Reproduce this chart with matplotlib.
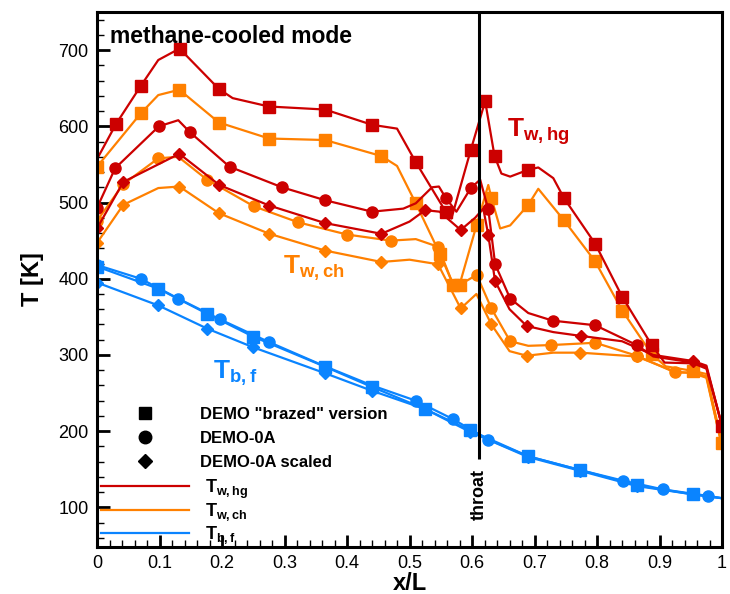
import numpy as np
import matplotlib
matplotlib.use('Agg')
import matplotlib.pyplot as plt
from matplotlib.lines import Line2D
from matplotlib.ticker import MultipleLocator, FuncFormatter

plt.rcParams['font.family'] = ['Liberation Sans', 'DejaVu Sans']
plt.rcParams['mathtext.fontset'] = 'custom'
plt.rcParams['mathtext.rm'] = 'Liberation Sans:bold'
plt.rcParams['mathtext.bf'] = 'Liberation Sans:bold'
plt.rcParams['mathtext.it'] = 'Liberation Sans:bold'

red = '#cc0000'
orange = '#ff8000'
blue = '#0a84ff'

# --- data (x/L, T [K]) ---
# DEMO "brazed" version
sq_hg_x = [0, 0.0304, 0.070, 0.098, 0.132, 0.195, 0.217, 0.275, 0.365, 0.44, 0.48, 0.51, 0.558, 0.567,
           0.598, 0.621, 0.636, 0.647, 0.661, 0.69, 0.706, 0.73, 0.747, 0.797, 0.8405, 0.8875, 0.908,
           0.954, 0.975, 1.0]
sq_hg_T = [557, 603, 653, 687, 702, 649, 637, 626, 622, 602, 597, 553, 488, 479,
           569, 633, 561, 538, 534, 543, 546, 532, 506, 446, 376, 313, 290,
           289, 282, 207]
sq_hg_m = [1, 2, 4, 5, 7, 8, 9, 11, 12, 14, 15, 16, 19, 22, 23, 24, 25, 29]

sq_ch_x = [0, 0.07, 0.098, 0.1317, 0.195, 0.2752, 0.365, 0.455, 0.48, 0.51, 0.549, 0.57, 0.58, 0.6075,
           0.626, 0.631, 0.645, 0.661, 0.69, 0.706, 0.7468, 0.7968, 0.8405, 0.8875, 0.91, 0.954, 0.975, 1.0]
sq_ch_T = [547, 617, 641, 648, 605, 584, 582, 561, 548, 499, 432, 392, 392, 471,
           523, 506, 466, 470, 497, 518, 477, 423, 358, 301, 285, 279, 275, 184]
sq_ch_m = [0, 1, 3, 4, 5, 6, 7, 9, 10, 11, 12, 13, 15, 18, 20, 21, 22, 23, 25, 27]

sq_bf_x = [0, 0.098, 0.1765, 0.25, 0.365, 0.44, 0.525, 0.597, 0.69, 0.773, 0.8635, 0.954, 1.0]
sq_bf_T = [416, 387, 354, 324, 284.5, 258, 229, 201, 167, 149, 129, 117, 112]
sq_bf_m = list(range(12))

# DEMO-0A
ci_hg_x = [0, 0.029, 0.099, 0.13, 0.149, 0.212, 0.296, 0.365, 0.44, 0.49, 0.51, 0.536, 0.547, 0.558,
           0.575, 0.598, 0.613, 0.626, 0.637, 0.661, 0.69, 0.729, 0.797, 0.8635, 0.89, 0.954, 0.975, 1.0]
ci_hg_T = [493, 545, 600, 608, 592, 547, 520, 503, 488, 492, 499, 520, 521, 506,
           488, 519, 530, 491, 419, 374, 355, 345, 339, 313, 298, 290, 284, 207]
ci_hg_m = [0, 1, 2, 4, 5, 6, 7, 8, 13, 15, 17, 18, 19, 21, 22, 23]

ci_ch_x = [0, 0.042, 0.098, 0.13, 0.176, 0.251, 0.322, 0.40, 0.47, 0.51, 0.5456, 0.57, 0.58, 0.6075,
           0.631, 0.661, 0.69, 0.727, 0.797, 0.8635, 0.925, 0.954, 0.975, 1.0]
ci_ch_T = [476, 524, 558, 560, 530, 495, 474, 458, 450, 452, 442, 392, 392, 405,
           361, 318, 312, 313, 316, 299, 277, 277, 272, 180]
ci_ch_m = [0, 1, 2, 4, 5, 6, 7, 8, 10, 13, 14, 15, 17, 18, 19, 20]

ci_bf_x = [0, 0.07, 0.13, 0.196, 0.275, 0.365, 0.44, 0.51, 0.569, 0.626, 0.69, 0.773, 0.842, 0.906, 0.978, 1.0]
ci_bf_T = [418, 400, 374, 347, 317, 285, 260, 240, 216, 189, 167, 149, 135, 123.5, 115, 112]
ci_bf_m = [0, 1, 2, 3, 4, 7, 8, 9, 12, 13, 14]

# DEMO-0A scaled
di_hg_x = [0, 0.042, 0.1317, 0.1957, 0.2757, 0.365, 0.455, 0.50, 0.525, 0.548, 0.5819, 0.605, 0.618,
           0.6261, 0.6368, 0.66, 0.6875, 0.73, 0.774, 0.84, 0.89, 0.954, 0.975, 1.0]
di_hg_T = [466, 527, 564, 523, 496, 473, 459, 475, 490, 488, 464, 480, 492,
           457, 397, 360, 338, 330, 325, 318, 300, 292, 286, 207]
di_hg_m = [0, 1, 2, 3, 4, 5, 6, 8, 10, 13, 14, 16, 18, 21, 23]

di_ch_x = [0, 0.042, 0.098, 0.1317, 0.195, 0.2757, 0.3648, 0.455, 0.50, 0.5456, 0.5819, 0.607, 0.631,
           0.66, 0.6875, 0.73, 0.773, 0.8635, 0.925, 0.954, 0.975, 1.0]
di_ch_T = [447, 497, 519, 521, 486, 459, 437, 422, 425, 419, 361, 380, 340,
           305, 299, 303, 303, 298, 278, 276, 270, 180]
di_ch_m = [0, 1, 3, 4, 5, 6, 7, 9, 10, 12, 14, 16, 17]

di_bf_x = [0, 0.098, 0.1765, 0.25, 0.365, 0.44, 0.525, 0.597, 0.69, 0.773, 0.8635, 0.954, 1.0]
di_bf_T = [395, 365, 334.5, 310, 276, 253, 229, 199, 166, 148, 128, 117, 112]
di_bf_m = list(range(12))

x_throat = 0.611
T_throat_low = 164

case_labels = ['DEMO "brazed" version', 'DEMO-0A', 'DEMO-0A scaled']
line_labels = [r'$\mathbf{T_{w,hg}}$', r'$\mathbf{T_{w,ch}}$', r'$\mathbf{T_{b,f}}$']

fig = plt.figure(figsize=(7.3, 5.94), dpi=100)
ax = fig.add_axes([0.1329, 0.0791, 0.8562, 0.9007])

series = [
    (ci_bf_x, ci_bf_T, ci_bf_m, blue, 'o', 8),
    (sq_bf_x, sq_bf_T, sq_bf_m, blue, 's', 8.5),
    (di_bf_x, di_bf_T, di_bf_m, blue, 'D', 6.5),
    (di_ch_x, di_ch_T, di_ch_m, orange, 'D', 6.5),
    (ci_ch_x, ci_ch_T, ci_ch_m, orange, 'o', 8),
    (sq_ch_x, sq_ch_T, sq_ch_m, orange, 's', 8.5),
    (di_hg_x, di_hg_T, di_hg_m, red, 'D', 6.5),
    (ci_hg_x, ci_hg_T, ci_hg_m, red, 'o', 8),
    (sq_hg_x, sq_hg_T, sq_hg_m, red, 's', 8.5),
]
for x, T, m, c, mk, ms in series:
    ax.plot(x, T, color=c, lw=1.6, marker=mk, ms=ms, markevery=m, mec=c, mfc=c)

ax.set_xlim(0, 1)
ax.set_ylim(48, 750)

ax.vlines(x_throat, T_throat_low, 750, color='black', lw=2.2, zorder=5)
ax.text(x_throat, 117, 'throat', rotation=90, ha='center', va='center',
        fontsize=13, fontweight='bold')

ax.text(0.02, 0.975, 'methane-cooled mode', transform=ax.transAxes, ha='left', va='top',
        fontsize=16.5, fontweight='bold')

ax.text(0.656, 586, r'$\mathbf{T_{w,hg}}$', color=red, fontsize=19)
ax.text(0.297, 406, r'$\mathbf{T_{w,ch}}$', color=orange, fontsize=19)
ax.text(0.186, 269, r'$\mathbf{T_{b,f}}$', color=blue, fontsize=19)

# legends
mk_handles = [Line2D([], [], ls='none', marker=mk, color='black', ms=s)
              for mk, s in zip(['s', 'o', 'D'], [9, 9, 7])]
leg1 = ax.legend(mk_handles, case_labels, loc='upper left', bbox_to_anchor=(0.050, 0.262),
                 frameon=False, borderpad=0, borderaxespad=0, handlelength=2.0,
                 handletextpad=2.3, labelspacing=0.55, prop={'weight': 'bold', 'size': 12})
ax.add_artist(leg1)
ln_handles = [Line2D([], [], color=c, lw=1.6) for c in [red, orange, blue]]
ax.legend(ln_handles, line_labels, loc='upper left', bbox_to_anchor=(0.006, 0.13),
          frameon=False, borderpad=0, borderaxespad=0, handlelength=4.9,
          handletextpad=0.9, labelspacing=0.05, prop={'size': 13})

ax.xaxis.set_major_locator(MultipleLocator(0.1))
ax.xaxis.set_minor_locator(MultipleLocator(0.02))
ax.yaxis.set_major_locator(MultipleLocator(100))
ax.yaxis.set_minor_locator(MultipleLocator(20))
ax.xaxis.set_major_formatter(FuncFormatter(lambda v, p: '%g' % round(v, 2)))
ax.tick_params(which='major', direction='in', length=9, width=2, labelsize=13, pad=6)
ax.tick_params(which='minor', direction='in', length=5, width=1)
ax.tick_params(top=False, right=False)
for s in ax.spines.values():
    s.set_linewidth(2.2)

ax.set_xlabel('x/L', fontsize=17, fontweight='bold', labelpad=0)
ax.set_ylabel('T [K]', fontsize=17, fontweight='bold', labelpad=10)

fig.savefig('out.png', dpi=100)
